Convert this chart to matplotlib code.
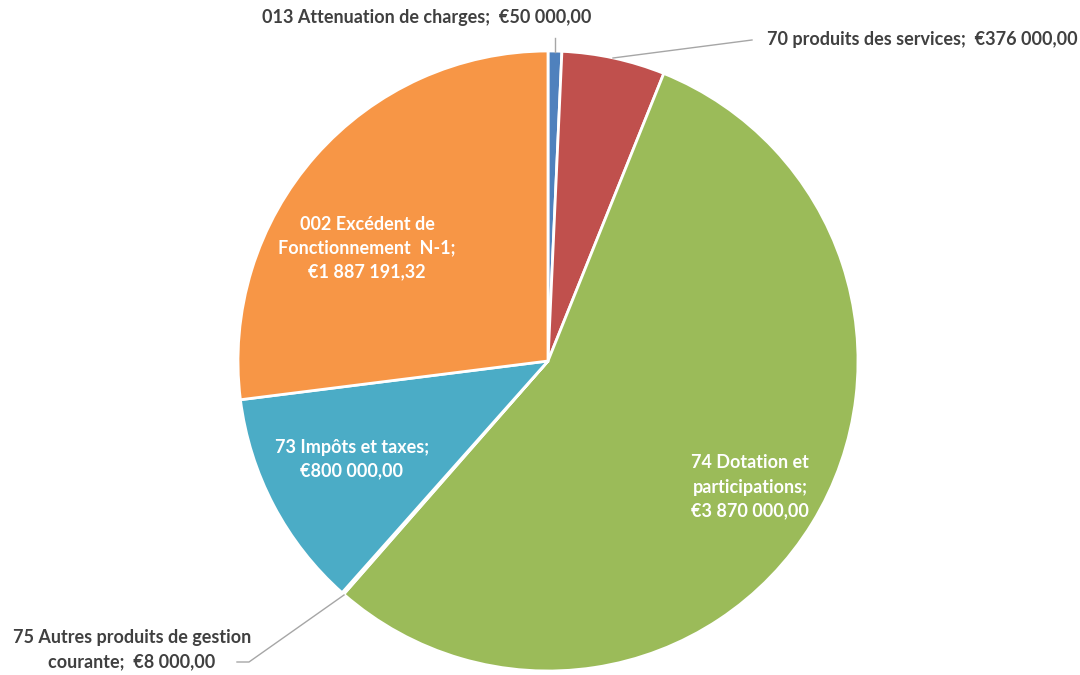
import matplotlib
matplotlib.use("Agg")
import matplotlib.pyplot as plt

categories = ["013 Attenuation de charges", "70 produits des services",
              "74 Dotation et participations", "75 Autres produits de gestion courante",
              "73 Impôts et taxes", "002 Excédent de Fonctionnement N-1"]
values = [50000.00, 376000.00, 3870000.00, 8000.00, 800000.00, 1887191.32]
colors = ["#4F81BD", "#C0504D", "#9BBB59", "#8064A2", "#4BACC6", "#F79646"]
label_texts = ["013 Attenuation de charges;  €50 000,00",
               "70 produits des services;  €376 000,00",
               "74 Dotation et\nparticipations;\n€3 870 000,00",
               "75 Autres produits de gestion\ncourante;  €8 000,00",
               "73 Impôts et taxes;\n€800 000,00",
               "002 Excédent de\nFonctionnement  N-1;\n€1 887 191,32"]

W, H = 1080, 675
fig = plt.figure(figsize=(W / 100, H / 100), dpi=100)
ax = fig.add_axes([0, 0, 1, 1])

cx, cy, r = 548, H - 361, 310
ax.pie(values, colors=colors, startangle=90, counterclock=False,
       center=(cx, cy), radius=r, frame=True,
       wedgeprops=dict(edgecolor="white", linewidth=2))
ax.set_xlim(0, W)
ax.set_ylim(0, H)
ax.set_aspect("equal")
ax.axis("off")

font = dict(family="Lato", fontweight="bold", fontsize=13, linespacing=1.5)
gray = "#404040"
line_c = "#A6A6A6"

def py(y):
    return H - y

# inside labels
ax.text(367, py(248), label_texts[5], color="white", ha="center", va="center", **font)
ax.text(352, py(459), label_texts[4], color="white", ha="center", va="center", **font)
ax.text(750, py(487), label_texts[2], color="white", ha="center", va="center", **font)

# outside labels
ax.text(427, py(18), label_texts[0], color=gray, ha="center", va="center", **font)
ax.plot([555, 555], [py(38), py(52)], color=line_c, lw=1)

ax.text(767, py(40), label_texts[1], color=gray, ha="left", va="center", **font)
ax.plot([613, 752], [py(58), py(40)], color=line_c, lw=1)

ax.text(132, py(650), label_texts[3], color=gray, ha="center", va="center", **font)
ax.plot([344, 249, 237], [py(595), py(662), py(662)], color=line_c, lw=1)

fig.savefig("out.png", dpi=100)
